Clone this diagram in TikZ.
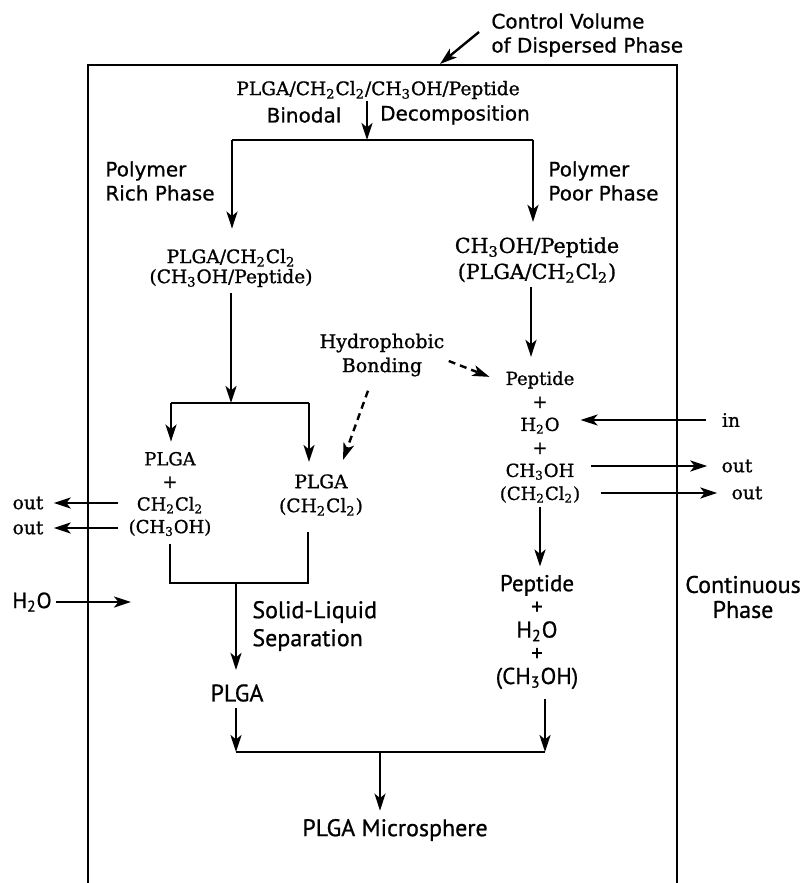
\documentclass[tikz,border=0pt]{standalone}
\usepackage{fontspec}
\setmainfont{DejaVu Serif}[FakeBold=1]
\setsansfont{DejaVu Sans}[FakeBold=0.8]
\newfontfamily\condfont{PT Sans}[FakeBold=0.8]
\usetikzlibrary{arrows.meta}
\newcommand{\lowidx}[1]{\textsubscript{#1}}
\tikzset{
  cvbox/.style  = {line width=1.3pt},
  cvline/.style = {line width=1.2pt},
  cvflow/.style = {-{Stealth[length=8.5pt,width=5.5pt,inset=2.2pt]}, line width=1.2pt},
  cvdash/.style = {cvflow, dash pattern=on 3.5pt off 2.5pt},
  cvsans/.style = {font=\sffamily\fontsize{10}{12}\selectfont, align=left, inner sep=1pt},
  cvchem/.style = {font=\fontsize{9.3}{11.5}\selectfont, align=center, inner sep=1pt},
  cvcond/.style = {font=\condfont\fontsize{12}{12.5}\selectfont, align=center, inner sep=1pt},
}
\begin{document}
\begin{tikzpicture}[x=0.5pt, y=-0.5pt]
  \useasboundingbox (0,0) rectangle (802,883);

  % control volume of the dispersed phase
  \draw[cvbox] (88,883) |- (677,65) -- (677,883);
  \node[cvsans, anchor=west] (cvlbl) at (489,35) {Control Volume\\of Dispersed Phase};
  \coordinate (cvtop) at (440,64);
  \draw[cvflow] ([xshift=-5pt,yshift=1.5pt]cvlbl.west) -- (cvtop);

  % binodal decomposition
  \node[cvchem] (feed) at (378,90) {PLGA/CH\lowidx{2}Cl\lowidx{2}/CH\lowidx{3}OH/Peptide};
  \node[cvsans] (bin1) at (304,115) {Binodal};
  \node[cvsans] (bin2) at (455,115) {Decomposition};
  \coordinate (split) at (367,140);
  \coordinate (brL) at (232,140);
  \coordinate (brR) at (533,140);
  \draw[cvflow] (feed.south -| split) -- (split);
  \draw[cvline] (brL) -- (brR);

  \node[cvsans, anchor=west] (richlbl) at (103,181) {Polymer\\Rich Phase};
  \node[cvsans, anchor=west] (poorlbl) at (546,181) {Polymer\\Poor Phase};

  \node[cvchem, font=\fontsize{9.3}{10}\selectfont] (rich) at (231,268)
        {PLGA/CH\lowidx{2}Cl\lowidx{2}\\(CH\lowidx{3}OH/Peptide)};
  \node[cvchem, font=\fontsize{10.3}{13}\selectfont] (poor) at (537,260)
        {CH\lowidx{3}OH/Peptide\\(PLGA/CH\lowidx{2}Cl\lowidx{2})};
  \draw[cvflow, shorten >=9pt] (brL) -- (brL |- rich.north);
  \draw[cvflow, shorten >=6.5pt] (brR) -- (brR |- poor.north);

  % polymer poor branch
  \node[cvchem, font=\fontsize{9}{11.5}\selectfont] (pep) at (540,437)
        {Peptide\\+\\H\lowidx{2}O\\+\\CH\lowidx{3}OH\\(CH\lowidx{2}Cl\lowidx{2})};
  \draw[cvflow, shorten <=1pt, shorten >=6pt] ([xshift=-3pt]poor.south) -- ([xshift=-3pt]poor.south |- pep.north);

  \node[cvchem] (inR)   at (731,420) {in};
  \node[cvchem] (outR1) at (737,466) {out};
  \node[cvchem] (outR2) at (747,493) {out};
  \draw[cvflow, shorten <=7pt] (inR.west) -- ([xshift=-1pt]pep.east |- inR.west);
  \draw[cvflow] ([xshift=4pt]pep.east |- outR1.west) -- ([xshift=-6pt]outR1.west);
  \draw[cvflow] ([xshift=9pt]pep.east |- outR2.west) -- ([xshift=-6pt]outR2.west);

  % polymer rich branch
  \coordinate (lsplit) at (231,403);
  \coordinate (lsL) at (171,403);
  \coordinate (lsR) at (309,403);
  \draw[cvflow, shorten <=2pt] (rich.south -| lsplit) -- (lsplit);
  \draw[cvline] (lsL) -- (lsR);
  \node[cvchem, font=\fontsize{9}{11.3}\selectfont] (mix) at (170,494)
        {PLGA\\+\\CH\lowidx{2}Cl\lowidx{2}\\(CH\lowidx{3}OH)};
  \node[cvchem, font=\fontsize{9.3}{12}\selectfont] (sol) at (321,495)
        {PLGA\\(CH\lowidx{2}Cl\lowidx{2})};
  \draw[cvflow, shorten >=4pt] (lsL) -- (lsL |- mix.north);
  \draw[cvflow, shorten >=5pt] (lsR) -- (lsR |- sol.north);

  \node[cvchem] (outL1) at (28,503) {out};
  \node[cvchem] (outL2) at (28,528) {out};
  \draw[cvflow] ([xshift=-4pt]mix.west |- outL1.east) -- ([xshift=4pt]outL1.east);
  \draw[cvflow] ([xshift=-4pt]mix.west |- outL2.east) -- ([xshift=4pt]outL2.east);

  \node[cvchem, font=\fontsize{9.5}{12}\selectfont] (hydro) at (382,355) {Hydrophobic\\Bonding};
  \draw[cvdash] ([xshift=-7pt,yshift=-6pt]hydro.south) -- ([xshift=11pt,yshift=6pt]sol.north);
  \draw[cvdash] ([xshift=1pt,yshift=-3pt]hydro.east) -- ([xshift=-4pt,yshift=-4pt]pep.north west);

  % solid-liquid separation
  \coordinate (lbL) at (170,583);
  \coordinate (lbR) at (308,583);
  \coordinate (lbM) at (236,583);
  \draw[cvline, shorten <=3pt, shorten >=7pt] (mix.south) -- (lbL) -- (lbR) -- (lbR |- sol.south);
  \node[cvcond] (plgab) at (237,693) {PLGA};
  \draw[cvflow, shorten >=6pt] (lbM) -- (lbM |- plgab.north);
  \node[cvcond, anchor=west, align=left, font=\condfont\fontsize{12}{14}\selectfont] (sls) at (250,626)
        {Solid-Liquid\\Separation};
  \node[cvcond, font=\condfont\fontsize{11}{12}\selectfont] (h2oL) at (32,602) {H\lowidx{2}O};
  \coordinate (h2oin) at (131,602);
  \draw[cvflow, shorten <=1pt] (h2oL.east) -- (h2oin);

  \node[cvcond, font=\condfont\fontsize{11.5}{11.6}\selectfont] (pepb) at (537,632)
        {Peptide\\+\\H\lowidx{2}O\\+\\(CH\lowidx{3}OH)};
  \draw[cvflow, shorten <=1pt, shorten >=3pt] (pep.south) -- (pep.south |- pepb.north);

  % microsphere
  \coordinate (jL) at (236,752);
  \coordinate (jR) at (545,752);
  \coordinate (jM) at (380,752);
  \draw[cvflow, shorten <=2pt] (plgab.south -| jL) -- (jL);
  \draw[cvflow, shorten <=4pt] (pepb.south -| jR) -- (jR);
  \draw[cvline] (jL) -- (jR);
  \node[cvcond] (micro) at (395,830) {PLGA Microsphere};
  \draw[cvflow, shorten >=3pt] (jM) -- (jM |- micro.north);

  \node[cvcond, font=\condfont\fontsize{12}{12.5}\selectfont] (cont) at (743,597) {Continuous\\Phase};
\end{tikzpicture}
\end{document}
